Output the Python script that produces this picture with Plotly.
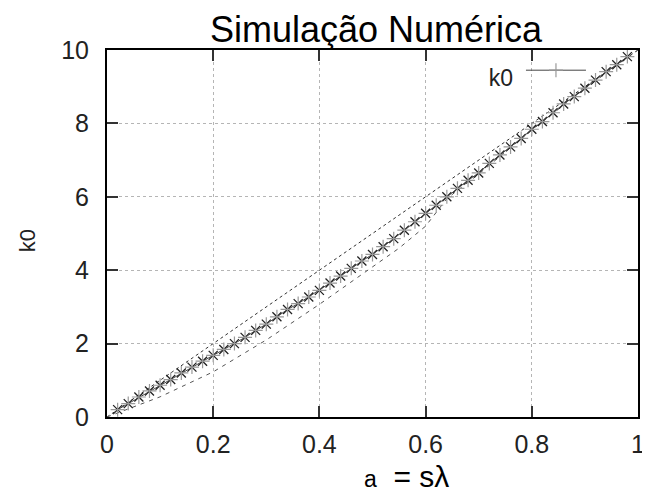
import plotly.graph_objects as go

# ---- data ----
a_vals = [0.02, 0.04, 0.06, 0.08, 0.10, 0.12, 0.14, 0.16, 0.18, 0.20,
          0.22, 0.24, 0.26, 0.28, 0.30, 0.32, 0.34, 0.36, 0.38, 0.40,
          0.42, 0.44, 0.46, 0.48, 0.50, 0.52, 0.54, 0.56, 0.58, 0.60,
          0.62, 0.64, 0.66, 0.68, 0.70, 0.72, 0.74, 0.76, 0.78, 0.80,
          0.82, 0.84, 0.86, 0.88, 0.90, 0.92, 0.94, 0.96, 0.98]
k0_vals = [0.20, 0.365, 0.545, 0.71, 0.865, 1.02, 1.20, 1.36, 1.52, 1.68,
           1.84, 2.00, 2.17, 2.36, 2.53, 2.73, 2.93, 3.09, 3.27, 3.45,
           3.65, 3.84, 4.05, 4.25, 4.43, 4.64, 4.86, 5.09, 5.32, 5.55,
           5.77, 6.00, 6.23, 6.45, 6.65, 6.91, 7.14, 7.36, 7.59, 7.84,
           8.05, 8.29, 8.53, 8.73, 8.96, 9.18, 9.41, 9.60, 9.82]

upper_a = [0.0, 1.0]
upper_k = [0.0, 10.0]

lower_a = [0.0, 0.1, 0.2, 0.3, 0.4, 0.5, 0.55, 0.6, 0.64, 0.7, 0.8, 0.9, 1.0]
lower_k = [0.0, 0.55, 1.23, 2.10, 3.07, 4.10, 4.60, 5.20, 5.95, 6.62, 7.82, 8.95, 10.0]

x_ticks = [0, 0.2, 0.4, 0.6, 0.8, 1]
x_tick_labels = ["0", "0.2", "0.4", "0.6", "0.8", "1"]
y_ticks = [0, 2, 4, 6, 8, 10]
y_tick_labels = ["0", "2", "4", "6", "8", "10"]

FONT = "Liberation Sans, Arial, sans-serif"

fig = go.Figure()

fig.add_trace(go.Scatter(x=upper_a, y=upper_k, mode="lines",
                         line=dict(color="#333333", width=1, dash="dot"),
                         showlegend=False, hoverinfo="skip"))
fig.add_trace(go.Scatter(x=lower_a, y=lower_k, mode="lines",
                         line=dict(color="#555555", width=1, dash="4px,5px"),
                         showlegend=False, hoverinfo="skip"))
fig.add_trace(go.Scatter(x=a_vals, y=k0_vals, mode="markers",
                         marker=dict(symbol="x-thin-open", size=9, color="#222222",
                                     line=dict(color="#222222", width=1.3)),
                         showlegend=False, hoverinfo="skip"))
fig.add_trace(go.Scatter(x=a_vals, y=k0_vals, mode="lines+markers", name="",
                         line=dict(color="#444444", width=1),
                         marker=dict(symbol="cross-thin-open", size=10, color="#999999",
                                     line=dict(color="#999999", width=1.2))))

axis_common = dict(
    showline=True, linecolor="black", linewidth=2, mirror="ticks",
    ticks="inside", ticklen=11, tickwidth=2, tickcolor="#333333",
    showgrid=True, gridcolor="#b5b5b5", gridwidth=1, griddash="dot",
    zeroline=False, automargin=False,
    tickfont=dict(family=FONT, size=25, color="#222222"),
)

fig.update_xaxes(range=[0, 1], tickvals=x_ticks, ticktext=x_tick_labels,
                 ticklabelstandoff=4, **axis_common)
fig.update_yaxes(range=[0, 10], tickvals=y_ticks, ticktext=y_tick_labels,
                 ticklabelstandoff=11, **axis_common)

# the page body adds an 8px offset, so the figure is sized to fit the window
fig.update_layout(
    width=642, height=489,
    margin=dict(l=99, r=12, t=42, b=80, autoexpand=False),
    paper_bgcolor="white", plot_bgcolor="white",
    title=dict(text="Simulação Numérica", x=(376 - 8) / 642, xanchor="center",
               y=0.982, yanchor="top", automargin=False,
               font=dict(family=FONT, size=36, color="black")),
    legend=dict(title=dict(text="k0", side="left",
                           font=dict(family=FONT, size=23, color="#222222")),
                x=0.715, xanchor="left", y=0.93, yanchor="middle",
                itemwidth=60,
                bgcolor="rgba(0,0,0,0)", font=dict(family=FONT, size=2)),
    annotations=[
        dict(text="<span style='font-size:23px'>a</span>\u00a0\u00a0= sλ",
             xref="paper", yref="paper", x=(362 - 107) / 531, y=-0.212,
             xanchor="left", yanchor="bottom", showarrow=False,
             font=dict(family=FONT, size=30, color="black")),
        dict(text="k0", xref="paper", yref="paper", x=-0.15, y=0.48,
             textangle=-90, xanchor="center", yanchor="middle", showarrow=False,
             font=dict(family=FONT, size=22, color="#222222")),
    ],
)

fig.write_html("out.html")
